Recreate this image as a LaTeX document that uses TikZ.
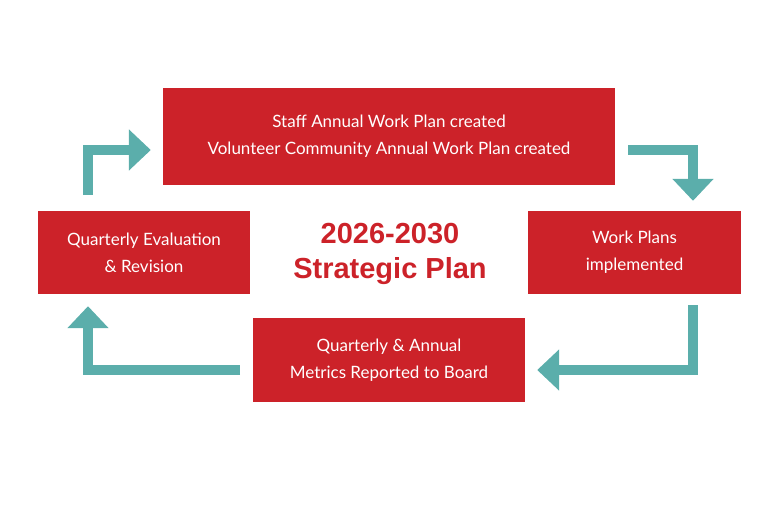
\documentclass[tikz,border=0pt]{standalone}
\usepackage{fontspec}
\setmainfont{Lato}
\newfontfamily\titlefont{Liberation Sans}
\usetikzlibrary{arrows.meta,positioning}
\definecolor{planred}{HTML}{CC2229}
\definecolor{planteal}{HTML}{5BAEAB}
\tikzset{
  stage/.style={fill=planred, text=white, align=center, inner sep=0pt,
    font=\fontsize{17}{27}\selectfont},
  flow/.style={planteal, line width=10pt,
    -{Triangle[width=40pt,length=22pt]}}
}
\begin{document}
\begin{tikzpicture}[x=1pt,y=-1pt]
  \useasboundingbox (0,0) rectangle (780,520);
  \node[stage, minimum width=452pt, minimum height=97pt] (work) at (389,136.5)
    {Staff Annual Work Plan created\\Volunteer Community Annual Work Plan created};
  \node[stage, minimum width=212pt, minimum height=83pt] (eval) at (144,252.5)
    {Quarterly Evaluation\\\& Revision};
  \node[stage, minimum width=213pt, minimum height=83pt] (impl) at (634.5,252.5)
    {Work Plans\\implemented};
  \node[stage, minimum width=272pt, minimum height=84pt] (report) at (389,360)
    {Quarterly \& Annual\\Metrics Reported to Board};
  \node[text=planred, align=center, font=\titlefont\bfseries\fontsize{29}{35}\selectfont]
    (title) at (390,254) {2026-2030\\Strategic Plan};
  % connectors
  \coordinate (a1) at (88,195);
  \coordinate (a2) at (628,150);
  \coordinate (a3) at (693,305);
  \coordinate (a4) at (240,370);
  \draw[flow] (a1) |- ([xshift=-12pt]work.west |- 0,150);
  \draw[flow] (a2) -| ([yshift=10pt]impl.north -| 693,0);
  \draw[flow] (a3) |- ([xshift=12pt]report.east |- 0,370);
  \draw[flow] (a4) -| ([yshift=-12pt]eval.south -| 88,0);
\end{tikzpicture}
\end{document}
